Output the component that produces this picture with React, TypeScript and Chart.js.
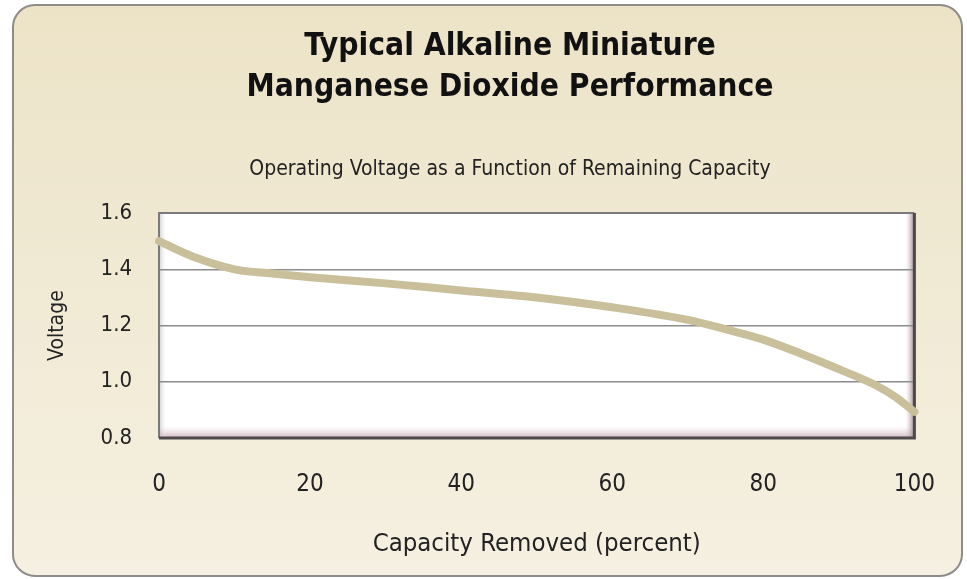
import React, { useEffect, useRef } from "react";
import { Chart, registerables } from "chart.js";

Chart.register(...registerables);

const titleLines = ["Typical Alkaline Miniature", "Manganese Dioxide Performance"];
const subtitleText = "Operating Voltage as a Function of Remaining Capacity";
const xAxisTitle = "Capacity Removed (percent)";
const yAxisTitle = "Voltage";

const capacityRemoved = [0, 5, 10, 15, 20, 30, 40, 50, 60, 70, 75, 80, 85, 90, 95, 97.5, 100];
const voltage = [1.5, 1.44, 1.4, 1.385, 1.372, 1.35, 1.325, 1.3, 1.265, 1.22, 1.187, 1.15, 1.1, 1.045, 0.986, 0.946, 0.893];

const xTicks = [0, 20, 40, 60, 80, 100];
const yTicks = [0.8, 1.0, 1.2, 1.4, 1.6];

const W = 967;
const H = 579;
const FONT = '"DejaVu Sans Condensed", "DejaVu Sans", sans-serif';

const backgroundPlugin = {
  id: "bgFrame",
  beforeDraw(chart: any) {
    const { ctx, chartArea: a } = chart;
    ctx.save();
    ctx.fillStyle = "#ffffff";
    ctx.fillRect(0, 0, W, H);
    // outer rounded panel
    const x = 13, y = 5, w = 949, h = 571, r = 22;
    const g = ctx.createLinearGradient(0, y, 0, y + h);
    g.addColorStop(0, "#ece3c7");
    g.addColorStop(1, "#f5f0e1");
    ctx.beginPath();
    ctx.roundRect(x, y, w, h, r);
    ctx.fillStyle = g;
    ctx.fill();
    ctx.lineWidth = 2;
    ctx.strokeStyle = "#8e8c88";
    ctx.stroke();
    // plot area
    ctx.fillStyle = "#ffffff";
    ctx.fillRect(a.left, a.top, a.right - a.left, a.bottom - a.top);
    // inner bevel bottom
    const gb = ctx.createLinearGradient(0, a.bottom - 12, 0, a.bottom);
    gb.addColorStop(0, "rgba(235,215,220,0)");
    gb.addColorStop(1, "rgba(200,170,180,0.9)");
    ctx.fillStyle = gb;
    ctx.fillRect(a.left, a.bottom - 12, a.right - a.left, 12);
    // inner bevel left
    const gl = ctx.createLinearGradient(a.left, 0, a.left + 8, 0);
    gl.addColorStop(0, "rgba(170,170,170,0.6)");
    gl.addColorStop(1, "rgba(255,255,255,0)");
    ctx.fillStyle = gl;
    ctx.fillRect(a.left, a.top, 8, a.bottom - a.top);
    // inner bevel right
    const gr = ctx.createLinearGradient(a.right - 9, 0, a.right, 0);
    gr.addColorStop(0, "rgba(220,200,205,0)");
    gr.addColorStop(1, "rgba(140,120,125,0.9)");
    ctx.fillStyle = gr;
    ctx.fillRect(a.right - 9, a.top, 9, a.bottom - a.top);
    ctx.restore();
  },
  beforeDatasetsDraw(chart: any) {
    const { ctx, chartArea: a } = chart;
    ctx.save();
    ctx.strokeStyle = "#7a7a7a";
    ctx.lineWidth = 2;
    ctx.beginPath();
    ctx.moveTo(a.left, a.bottom);
    ctx.lineTo(a.left, a.top);
    ctx.lineTo(a.right, a.top);
    ctx.stroke();
    ctx.strokeStyle = "#4e4a4a";
    ctx.lineWidth = 3;
    ctx.beginPath();
    ctx.moveTo(a.right, a.top);
    ctx.lineTo(a.right, a.bottom);
    ctx.lineTo(a.left, a.bottom);
    ctx.stroke();
    ctx.restore();
  },
};

export default function App() {
  const ref = useRef<HTMLCanvasElement | null>(null);

  useEffect(() => {
    if (!ref.current) return;
    const chart = new Chart(ref.current, {
      type: "line",
      data: {
        datasets: [
          {
            label: "Voltage",
            data: capacityRemoved.map((c, i) => ({ x: c, y: voltage[i] })),
            borderColor: "#c9bf9a",
            borderWidth: 8,
            pointRadius: 0,
            cubicInterpolationMode: "monotone",
            borderCapStyle: "round",
            clip: false,
          } as any,
        ],
      },
      options: {
        responsive: false,
        animation: false,
        layout: { padding: { left: 101, right: 48, top: 0, bottom: 0 } },
        plugins: {
          legend: { display: false },
          tooltip: { enabled: false },
          title: {
            display: true,
            text: titleLines,
            color: "#111111",
            font: { family: FONT, size: 31.5, weight: "bold", lineHeight: 1.3 },
            padding: { top: 26, bottom: 0 },
          },
          subtitle: {
            display: true,
            text: subtitleText,
            color: "#222222",
            font: { family: FONT, size: 21, lineHeight: 1.2 },
            padding: { top: 49, bottom: 31 },
          },
        },
        scales: {
          x: {
            type: "linear",
            min: 0,
            max: 100,
            afterBuildTicks: (s: any) => {
              s.ticks = xTicks.map((v) => ({ value: v }));
            },
            afterFit: (s: any) => {
              s.height = H - 438;
            },
            grid: { display: false, drawTicks: false },
            border: { display: false },
            ticks: {
              color: "#222222",
              font: { family: FONT, size: 24 },
              padding: 32,
            },
            title: {
              display: true,
              text: xAxisTitle,
              color: "#222222",
              font: { family: FONT, size: 25.5, lineHeight: 1.2 },
              padding: { top: 0, bottom: 19 },
            },
          },
          y: {
            type: "linear",
            min: 0.8,
            max: 1.6,
            afterBuildTicks: (s: any) => {
              s.ticks = yTicks.map((v) => ({ value: v }));
            },
            afterFit: (s: any) => {
              s.width = 58;
            },
            grid: {
              drawTicks: false,
              color: (c: any) =>
                c.tick && (c.tick.value <= 0.81 || c.tick.value >= 1.59) ? "rgba(0,0,0,0)" : "#8c8c8c",
              lineWidth: 1.5,
            },
            border: { display: false },
            ticks: {
              color: "#222222",
              font: { family: FONT, size: 22 },
              padding: 27,
              callback: (v: any) => Number(v).toFixed(1),
            },
            title: {
              display: true,
              text: yAxisTitle,
              color: "#222222",
              font: { family: FONT, size: 21, lineHeight: 1.2 },
              padding: { top: -55.6, bottom: 0 },
            },
          },
        },
      },
      plugins: [backgroundPlugin],
    });
    return () => chart.destroy();
  }, []);

  return (
    <div style={{ position: "absolute", left: 0, top: 0, width: W, height: H }}>
      <canvas ref={ref} width={W} height={H} style={{ width: W, height: H, display: "block" }} />
    </div>
  );
}
